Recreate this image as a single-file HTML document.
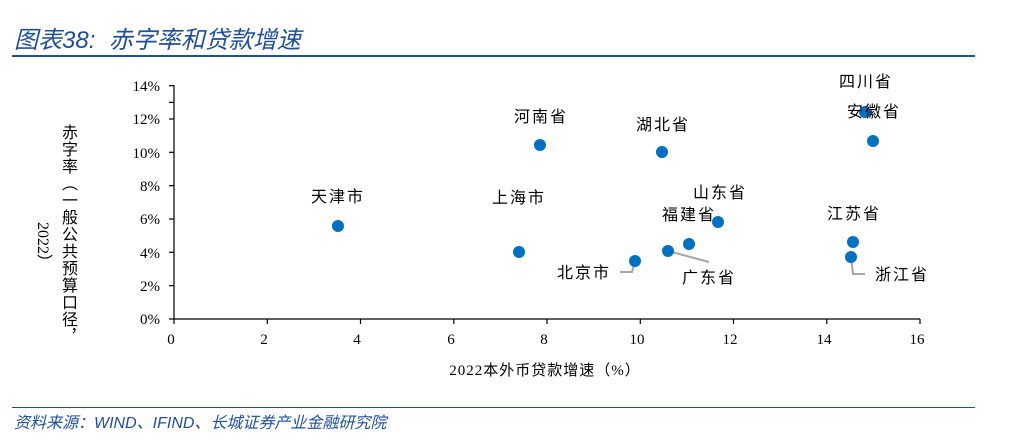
<!DOCTYPE html>
<html><head><meta charset="utf-8"><style>
body{margin:0;width:1021px;height:445px;background:#fff;overflow:hidden;position:relative;font-family:"Liberation Serif","Noto Serif CJK SC",serif;}
.t{position:absolute;left:14px;top:20px;font-size:24px;font-style:italic;color:#1f4e9a;font-family:"Liberation Sans","Noto Sans CJK SC",sans-serif;}
.vl{position:absolute;writing-mode:vertical-rl;font-size:16px;font-family:"Liberation Serif","Noto Sans CJK SC",sans-serif;color:#000;line-height:18px;}
.src{position:absolute;left:14px;top:409px;font-size:16px;font-style:italic;color:#1f4e9a;font-family:"Liberation Sans","Noto Sans CJK SC",sans-serif;}
</style></head><body>
<div class="t">图表38:&nbsp; 赤字率和贷款增速</div>
<div style="position:absolute;left:12px;top:55px;width:963px;height:2px;background:#1f4e9a"></div>
<div class="vl" style="left:58px;top:124px;letter-spacing:1px">赤字率（一般公共预算口径，</div>
<div class="vl" style="left:33px;top:222px">2022）</div>
<svg width="1021" height="445" style="position:absolute;left:0;top:0" font-family="Liberation Serif, Noto Sans CJK SC, serif">
<g stroke="#000" stroke-width="1.2">
<line x1="174" y1="85" x2="174" y2="319"/>
<line x1="174" y1="319" x2="920" y2="319"/>
<line x1="169" y1="85.7" x2="174" y2="85.7"/><line x1="169" y1="102.4" x2="174" y2="102.4"/><line x1="169" y1="119" x2="174" y2="119"/><line x1="169" y1="152.3" x2="174" y2="152.3"/><line x1="169" y1="185.7" x2="174" y2="185.7"/><line x1="169" y1="219" x2="174" y2="219"/><line x1="169" y1="252.3" x2="174" y2="252.3"/><line x1="169" y1="285.7" x2="174" y2="285.7"/><line x1="169" y1="319" x2="174" y2="319"/>
<line x1="174" y1="319" x2="174" y2="324"/><line x1="267.3" y1="319" x2="267.3" y2="324"/><line x1="360.5" y1="319" x2="360.5" y2="324"/><line x1="453.8" y1="319" x2="453.8" y2="324"/><line x1="547" y1="319" x2="547" y2="324"/><line x1="640.3" y1="319" x2="640.3" y2="324"/><line x1="733.5" y1="319" x2="733.5" y2="324"/><line x1="826.8" y1="319" x2="826.8" y2="324"/><line x1="920" y1="319" x2="920" y2="324"/>
</g>
<g font-size="15" text-anchor="end">
<text x="160" y="91">14%</text><text x="160" y="124">12%</text><text x="160" y="158">10%</text><text x="160" y="191">8%</text><text x="160" y="224">6%</text><text x="160" y="258">4%</text><text x="160" y="291">2%</text><text x="160" y="324">0%</text>
</g>
<g font-size="15" text-anchor="middle">
<text x="171" y="344">0</text><text x="264" y="344">2</text><text x="357" y="344">4</text><text x="451" y="344">6</text><text x="544" y="344">8</text><text x="637" y="344">10</text><text x="730" y="344">12</text><text x="824" y="344">14</text><text x="917" y="344">16</text>
<text x="545" y="375" letter-spacing="1">2022本外币贷款增速（%）</text>
</g>
<g stroke="#a6a6a6" stroke-width="2" fill="none">
<polyline points="635,261 632,272 620,272"/>
<polyline points="668,251 709,262"/>
<polyline points="851,257 853,274 865,274"/>
</g>
<g fill="#0070c0">
<circle cx="338" cy="226" r="6"/><circle cx="519" cy="252" r="6"/><circle cx="540" cy="145" r="6"/><circle cx="662" cy="152" r="6"/><circle cx="635" cy="261" r="6"/><circle cx="668" cy="251" r="6"/><circle cx="689" cy="244" r="6"/><circle cx="718" cy="222" r="6"/><circle cx="865" cy="112" r="6"/><circle cx="873" cy="141" r="6"/><circle cx="853" cy="242" r="6"/><circle cx="851" cy="257" r="6"/>
</g>
<g font-size="16" text-anchor="middle" letter-spacing="2">
<text x="338" y="202">天津市</text><text x="519" y="203">上海市</text><text x="541" y="122">河南省</text><text x="663" y="130">湖北省</text><text x="584" y="278">北京市</text><text x="709" y="283">广东省</text><text x="689" y="220">福建省</text><text x="720" y="198">山东省</text><text x="866" y="87">四川省</text><text x="874" y="117">安徽省</text><text x="854" y="219">江苏省</text><text x="902" y="280">浙江省</text>
</g>
</svg>
<div style="position:absolute;left:12px;top:407px;width:963px;height:1px;background:#1f4e9a"></div>
<div class="src">资料来源：WIND、IFIND、长城证券产业金融研究院</div>
</body></html>
